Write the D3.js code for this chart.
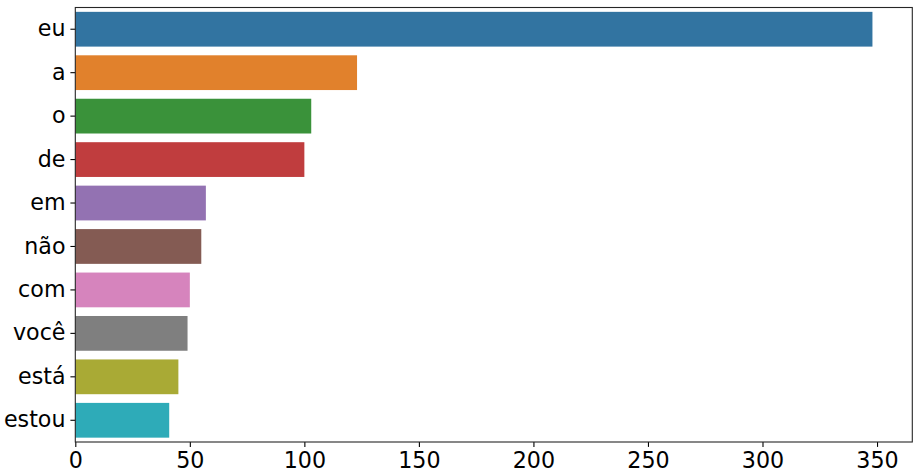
<!DOCTYPE html>
<html>
<head>
<meta charset="utf-8">
<script src="https://cdn.jsdelivr.net/npm/d3@7"></script>
<style>
  html, body { margin: 0; padding: 0; background: #fff; }
  svg { display: block; }
  text { font-family: "DejaVu Sans", sans-serif; }
</style>
</head>
<body>
<svg id="chart" width="919" height="476"></svg>
<script>
const categories = ["eu", "a", "o", "de", "em", "não", "com", "você", "está", "estou"];
const values = [348, 123, 103, 100, 57, 55, 50, 49, 45, 41];
const colors = ["#3274a1", "#e1812c", "#3a923a", "#c03d3e", "#9372b2", "#845b53", "#d684bd", "#7f7f7f", "#a9aa35", "#2eabb8"];
const xTicks = [0, 50, 100, 150, 200, 250, 300, 350];

const W = 919, H = 476;
const m = { left: 75.3, right: W - 912.3, top: 7.5, bottom: H - 442 };
const svg = d3.select("#chart");

const x = d3.scaleLinear()
  .domain([0, d3.max(values) * 1.05])
  .range([m.left, W - m.right]);
const y = d3.scaleBand()
  .domain(categories)
  .range([m.top, H - m.bottom])
  .paddingInner(0.2)
  .paddingOuter(0.1);

const data = categories.map((c, i) => ({ c, v: values[i], col: colors[i] }));

svg.append("g").selectAll("rect").data(data).join("rect")
  .attr("x", x(0))
  .attr("y", d => y(d.c))
  .attr("width", d => x(d.v) - x(0))
  .attr("height", y.bandwidth())
  .attr("fill", d => d.col);

const fontSize = 22.2;

// x axis
const xAxis = svg.append("g")
  .attr("transform", `translate(0,${H - m.bottom})`)
  .call(d3.axisBottom(x).tickValues(xTicks).tickSize(4.9).tickPadding(4.9).tickFormat(d3.format("d")));
xAxis.select(".domain").remove();
xAxis.selectAll(".tick line").attr("stroke", "#000").attr("stroke-width", 1.1);
xAxis.selectAll(".tick text").attr("font-size", fontSize).attr("fill", "#000")
  .attr("font-family", "DejaVu Sans, sans-serif").attr("dy", "0.72em");

// y axis
const yAxis = svg.append("g")
  .attr("transform", `translate(${m.left},0)`)
  .call(d3.axisLeft(y).tickSize(4.9).tickPadding(4.9));
yAxis.select(".domain").remove();
yAxis.selectAll(".tick line").attr("stroke", "#000").attr("stroke-width", 1.1);
yAxis.selectAll(".tick text").attr("font-size", fontSize).attr("fill", "#000")
  .attr("font-family", "DejaVu Sans, sans-serif");

// frame
svg.append("rect")
  .attr("x", m.left).attr("y", m.top)
  .attr("width", W - m.right - m.left)
  .attr("height", H - m.bottom - m.top)
  .attr("fill", "none")
  .attr("stroke", "#262626")
  .attr("stroke-width", 1.1);
</script>
</body>
</html>
